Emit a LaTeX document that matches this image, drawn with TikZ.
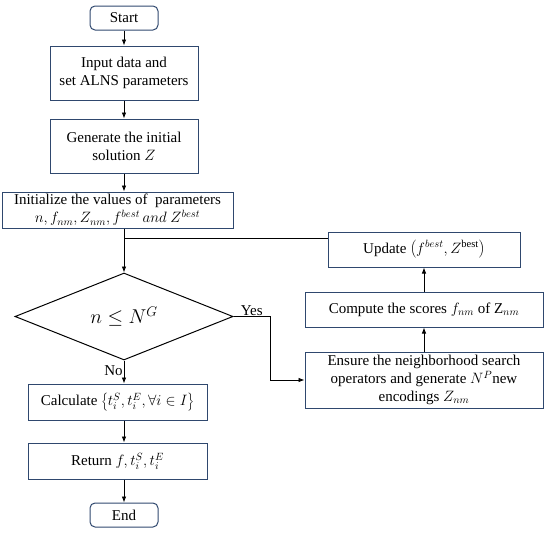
\RequirePackage{fix-cm}
\documentclass[tikz,border=0pt]{standalone}
\usepackage{fontspec}
\setmainfont{Liberation Serif}
\usetikzlibrary{calc,shapes.geometric,arrows.meta}

\definecolor{boxblue}{RGB}{47,72,110}

\begin{document}
\begin{tikzpicture}[x=1pt, y=-1pt,
    box/.style={draw=boxblue, line width=1pt, align=center, inner sep=0pt,
                font=\fontsize{15}{18}\selectfont},
    term/.style={box, rounded corners=5pt, minimum width=68pt, minimum height=24pt},
    decide/.style={draw, line width=1pt, diamond, aspect=2.5, inner sep=0pt,
                   minimum width=218pt, minimum height=87pt, font=\fontsize{20}{24}\selectfont},
    flow/.style={line width=.8pt, -{Latex[length=6pt,width=4.5pt]}},
    lbl/.style={font=\fontsize{15}{18}\selectfont, inner sep=1pt}]
    \useasboundingbox (0, 0) rectangle (550, 533);
    \def\xl{124} \def\xr{424}

    % main column
    \node[term] (start) at (\xl, 18) {Start};
    \node[box, minimum width=148pt, minimum height=54pt] (input) at (\xl, 73)
        {Input data and\\set ALNS parameters};
    \node[box, minimum width=148pt, minimum height=54pt] (gen) at (\xl, 146)
        {Generate the initial\\solution $Z$};
    \node[box, minimum width=231pt, minimum height=36pt] (init) at (117.5, 210)
        {Initialize the values of \ parameters\\$n, f_{nm}, Z_{nm}, f^{best}\,and\ Z^{best}$};
    \node[decide] (cond) at (\xl, 316.5) {$n \le N^G$};
    \node[box, minimum width=179pt, minimum height=36pt] (calc) at (117.5, 402)
        {Calculate $\left\{t_i^S, t_i^E, \forall i \in I\right\}$};
    \node[box, minimum width=179pt, minimum height=36pt] (ret) at (117.5, 461)
        {Return $f, t_i^S, t_i^E$};
    \node[term] (stop) at (\xl, 515) {End};

    % loop column
    \node[box, minimum width=192pt, minimum height=35pt] (upd) at (\xr, 249.5)
        {Update $\left(f^{best}, Z^{\mathrm{best}}\right)$};
    \node[box, minimum width=238pt, minimum height=35pt] (score) at (\xr, 309.5)
        {Compute the scores $f_{nm}$ of Z$_{nm}$};
    \node[box, minimum width=238pt, minimum height=56pt] (ensure) at (\xr, 380)
        {Ensure the neighborhood search\\operators and generate $N^P$new\\encodings $Z_{nm}$};

    \coordinate (join) at (\xl, 238);
    \coordinate (turn) at (270, 316.5);

    \draw[flow] (start) -- (input);
    \draw[flow] (input) -- (gen);
    \draw[flow] (gen) -- (gen.south |- init.north);
    \draw[flow] (cond.north |- init.south) -- (cond.north);
    \draw[line width=.8pt] (upd.west |- join) -- (join);
    \draw[flow] (cond.east) -- (turn) |- (ensure.west);
    \node[lbl, anchor=south] at ($(cond.east)!.5!(turn)$) {Yes};
    \draw[flow] (cond.south) -- (cond.south |- calc.north)
        node[lbl, pos=.45, anchor=east] {No};
    \draw[flow] (cond.south |- calc.south) -- (cond.south |- ret.north);
    \draw[flow] (cond.south |- ret.south) -- (stop);
    \draw[flow] (ensure) -- (score);
    \draw[flow] (score) -- (upd);
\end{tikzpicture}
\end{document}
